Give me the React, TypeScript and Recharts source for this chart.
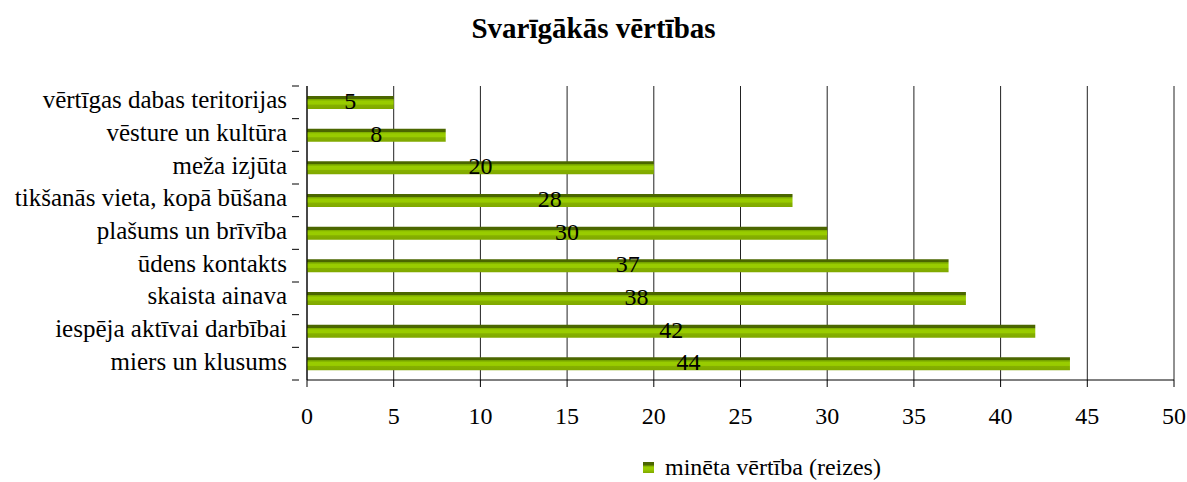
import { Bar, BarChart, CartesianGrid, LabelList, XAxis, YAxis } from "recharts"

const categories = [
  "vērtīgas dabas teritorijas",
  "vēsture un kultūra",
  "meža izjūta",
  "tikšanās vieta, kopā būšana",
  "plašums un brīvība",
  "ūdens kontakts",
  "skaista ainava",
  "iespēja aktīvai darbībai",
  "miers un klusums",
]
const counts = [5, 8, 20, 28, 30, 37, 38, 42, 44]
const xTicks = [0, 5, 10, 15, 20, 25, 30, 35, 40, 45, 50]

const seriesName = "minēta vērtība (reizes)"
const title = "Svarīgākās vērtības"

const data = categories.map((name, i) => ({ name, value: counts[i] }))

const FONT = "'Liberation Serif', 'DejaVu Serif', serif"
const W = 1187
const H = 482
const TOP = 86
const BOTTOM = 380
const band = (BOTTOM - TOP) / categories.length

// category ticks: label centred, tick marks on the band edges
function CatTick(props: any) {
  const { x, y, payload, index } = props
  const top = y - band / 2
  return (
    <g>
      <line x1={x - 7} x2={x} y1={top} y2={top} stroke="#000" />
      {index === categories.length - 1 && (
        <line x1={x - 7} x2={x} y1={top + band} y2={top + band} stroke="#000" />
      )}
      <text x={x - 12} y={y} dy={6} textAnchor="end" fontSize={25} fontFamily={FONT} fill="#000">
        {payload.value}
      </text>
    </g>
  )
}

export default function App() {
  return (
    <div style={{ position: "absolute", left: 0, top: 0, width: W, height: H, background: "#fff", fontFamily: FONT }}>
      <div
        style={{
          position: "absolute",
          top: 12,
          left: 0,
          width: W,
          textAlign: "center",
          fontWeight: "bold",
          fontSize: 29,
          color: "#000",
        }}
      >
        {title}
      </div>
      <BarChart
        width={W}
        height={H}
        data={data}
        layout="vertical"
        margin={{ top: TOP, right: 13, bottom: H - BOTTOM - 50, left: 0 }}
        barCategoryGap={0}
      >
        <defs>
          <linearGradient id="barFill" x1="0" y1="0" x2="0" y2="1">
            <stop offset="0%" stopColor="#4b6600" />
            <stop offset="22%" stopColor="#4b6600" />
            <stop offset="23%" stopColor="#73a000" />
            <stop offset="40%" stopColor="#99cc00" />
            <stop offset="62%" stopColor="#99cc00" />
            <stop offset="70%" stopColor="#85b000" />
            <stop offset="100%" stopColor="#80a800" />
          </linearGradient>
        </defs>
        <CartesianGrid horizontal={false} vertical={true} stroke="#222" />
        <XAxis
          type="number"
          domain={[0, 50]}
          ticks={xTicks}
          interval={0}
          height={50}
          axisLine={{ stroke: "#000" }}
          tickLine={{ stroke: "#000" }}
          tickSize={7}
          tickMargin={20}
          tick={{ fontSize: 24, fontFamily: FONT, fill: "#000" }}
        />
        <YAxis
          type="category"
          dataKey="name"
          width={307}
          interval={0}
          axisLine={{ stroke: "#000" }}
          tickLine={false}
          tick={<CatTick />}
        />
        <Bar dataKey="value" name={seriesName} fill="url(#barFill)" barSize={13} isAnimationActive={false}>
          <LabelList dataKey="value" position="center" fontSize={24} fontFamily={FONT} fill="#000" dy={-2} />
        </Bar>
      </BarChart>
      <div
        style={{
          position: "absolute",
          top: 454,
          left: 643,
          display: "flex",
          alignItems: "center",
          fontSize: 24,
          color: "#000",
        }}
      >
        <div
          style={{
            width: 11,
            height: 11,
            marginRight: 11,
            background: "linear-gradient(#4b6600 0%, #4b6600 25%, #99cc00 45%, #99cc00 65%, #80a800 100%)",
          }}
        />
        <span>{seriesName}</span>
      </div>
    </div>
  )
}
